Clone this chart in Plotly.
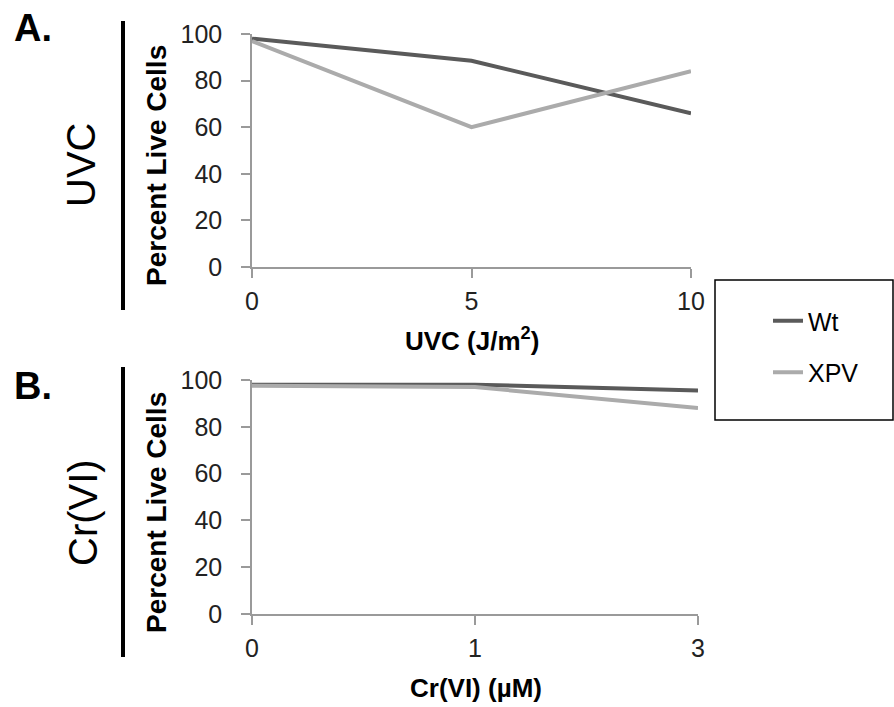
import plotly.graph_objects as go

# Data
uvc_doses = ["0", "5", "10"]
uvc_wt = [98, 88.5, 66]
uvc_xpv = [97, 60, 84]

cr_doses = ["0", "1", "3"]
cr_wt = [98, 98, 95.5]
cr_xpv = [97.5, 97, 88]

y_ticks = [0, 20, 40, 60, 80, 100]

W, H = 894, 707
FONT = "Arial, Liberation Sans, sans-serif"
WT_COLOR = "#5a5a5a"
XPV_COLOR = "#ababab"
AX_COLOR = "#9a9a9a"


def px(x):
    return x / W


def py(y):
    return 1 - y / H


fig = go.Figure()

fig.add_trace(go.Scatter(x=uvc_doses, y=uvc_wt, mode="lines", name="Wt",
                         line=dict(color=WT_COLOR, width=4), xaxis="x", yaxis="y",
                         legendgroup="wt", cliponaxis=False))
fig.add_trace(go.Scatter(x=uvc_doses, y=uvc_xpv, mode="lines", name="XPV",
                         line=dict(color=XPV_COLOR, width=4), xaxis="x", yaxis="y",
                         legendgroup="xpv", cliponaxis=False))
fig.add_trace(go.Scatter(x=cr_doses, y=cr_wt, mode="lines", name="Wt",
                         line=dict(color=WT_COLOR, width=4), xaxis="x2", yaxis="y2",
                         showlegend=False, cliponaxis=False))
fig.add_trace(go.Scatter(x=cr_doses, y=cr_xpv, mode="lines", name="XPV",
                         line=dict(color=XPV_COLOR, width=4), xaxis="x2", yaxis="y2",
                         showlegend=False, cliponaxis=False))

common_y = dict(range=[0, 100], tickvals=y_ticks, ticks="outside", ticklen=9,
                tickcolor=AX_COLOR, tickwidth=1.5, showline=True, linecolor=AX_COLOR,
                linewidth=1.5, showgrid=False, zeroline=False, ticklabelstandoff=14,
                tickfont=dict(family=FONT, size=25, color="#222"), fixedrange=True,
                automargin=False)
common_x = dict(type="category", range=[0, 2], ticks="outside", ticklen=9,
                tickcolor=AX_COLOR, tickwidth=1.5, showline=True, linecolor=AX_COLOR,
                linewidth=1.5, showgrid=False, zeroline=False, ticklabelstandoff=2,
                tickfont=dict(family=FONT, size=25, color="#222"), fixedrange=True,
                automargin=False)

fig.update_layout(
    template="none",
    width=W, height=H,
    margin=dict(l=0, r=0, t=0, b=0, pad=0, autoexpand=False),
    paper_bgcolor="white", plot_bgcolor="white",
    font=dict(family=FONT, color="#000"),
    xaxis=dict(common_x, domain=[px(252), px(691)], anchor="y",
               categoryorder="array", categoryarray=uvc_doses),
    yaxis=dict(common_y, domain=[py(267), py(34)], anchor="x"),
    xaxis2=dict(common_x, domain=[px(252), px(698)], anchor="y2",
                categoryorder="array", categoryarray=cr_doses),
    yaxis2=dict(common_y, domain=[py(614), py(380)], anchor="x2"),
    showlegend=True,
    legend=dict(x=px(768), y=py(298), xanchor="left", yanchor="top",
                bgcolor="rgba(0,0,0,0)", borderwidth=0,
                font=dict(family=FONT, size=25, color="#000"),
                tracegroupgap=16),
)

shapes = [
    # legend box
    dict(type="rect", xref="paper", yref="paper", x0=px(715), x1=px(893),
         y0=py(420), y1=py(280), line=dict(color="#000", width=1.5)),
    # vertical black bars
    dict(type="line", xref="paper", yref="paper", x0=px(123), x1=px(123),
         y0=py(310), y1=py(21), line=dict(color="#000", width=4)),
    dict(type="line", xref="paper", yref="paper", x0=px(123), x1=px(123),
         y0=py(657), y1=py(367), line=dict(color="#000", width=4)),
]

annotations = [
    dict(text="<b>A.</b>", x=px(12), y=py(28), xanchor="left", yanchor="middle",
         font=dict(size=38, family=FONT)),
    dict(text="<b>B.</b>", x=px(12), y=py(386), xanchor="left", yanchor="middle",
         font=dict(size=38, family=FONT)),
    dict(text="UVC", x=px(81), y=py(165), textangle=-90, xanchor="center", yanchor="middle",
         font=dict(size=40, family=FONT)),
    dict(text="Cr(VI)", x=px(83), y=py(513), textangle=-90, xanchor="center", yanchor="middle",
         font=dict(size=40, family=FONT)),
    dict(text="<b>Percent Live Cells</b>", x=px(156), y=py(166), textangle=-90,
         xanchor="center", yanchor="middle", font=dict(size=28, family=FONT)),
    dict(text="<b>Percent Live Cells</b>", x=px(156), y=py(513), textangle=-90,
         xanchor="center", yanchor="middle", font=dict(size=28, family=FONT)),
    dict(text="<b>UVC (J/m<sup>2</sup>)</b>", x=px(472), y=py(340), xanchor="center",
         yanchor="middle", font=dict(size=26, family=FONT)),
    dict(text="<b>Cr(VI) (µM)</b>", x=px(476), y=py(688), xanchor="center",
         yanchor="middle", font=dict(size=26, family=FONT)),
]

for a in annotations:
    a.update(xref="paper", yref="paper", showarrow=False)

fig.update_layout(shapes=shapes, annotations=annotations)

fig.write_html(
    "out.html",
    config={"displayModeBar": False},
    post_script="document.body.style.margin='0';document.body.style.overflow='hidden';",
)
